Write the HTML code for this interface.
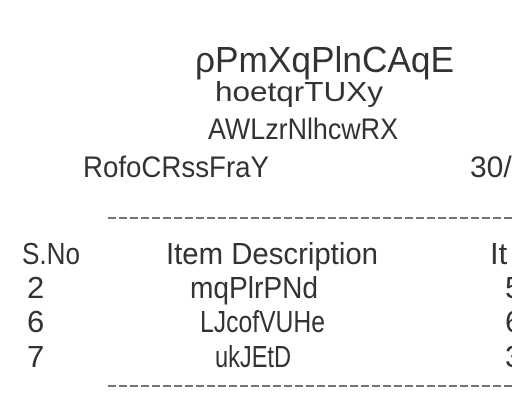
<!DOCTYPE html>
<html><head><meta charset="utf-8"><style>
html,body{margin:0;padding:0;background:#fff;}
svg{display:block}
text{font-family:"Liberation Sans",sans-serif;fill:#333;}
</style></head><body>
<svg width="512" height="400" viewBox="0 0 512 400" xmlns="http://www.w3.org/2000/svg">
<text x="195" y="72" font-size="36" textLength="259" lengthAdjust="spacingAndGlyphs">ρPmXqPlnCAqE</text>
<text x="215" y="101" font-size="28" textLength="168" lengthAdjust="spacingAndGlyphs">hoetqrTUXy</text>
<text x="208" y="139" font-size="30" textLength="190" lengthAdjust="spacingAndGlyphs">AWLzrNlhcwRX</text>
<text x="83" y="177" font-size="30" textLength="186" lengthAdjust="spacingAndGlyphs">RofoCRssFraY</text>
<text x="470" y="177" font-size="30">30/</text>
<line x1="108" y1="218" x2="512" y2="218" stroke="#222" stroke-width="1.3" stroke-dasharray="8 3"/>
<text x="22" y="264" font-size="31" textLength="58" lengthAdjust="spacingAndGlyphs">S.No</text>
<text x="166" y="264" font-size="31" textLength="212" lengthAdjust="spacingAndGlyphs">Item Description</text>
<text x="490" y="264" font-size="31">It</text>
<text x="27" y="298" font-size="31">2</text>
<text x="190" y="298" font-size="31" textLength="128" lengthAdjust="spacingAndGlyphs">mqPlrPNd</text>
<text x="505" y="298" font-size="31">5</text>
<text x="27" y="332" font-size="31">6</text>
<text x="200" y="332" font-size="31" textLength="125" lengthAdjust="spacingAndGlyphs">LJcofVUHe</text>
<text x="505" y="332" font-size="31">6</text>
<text x="27" y="367" font-size="31">7</text>
<text x="215" y="367" font-size="31" textLength="76" lengthAdjust="spacingAndGlyphs">ukJEtD</text>
<text x="505" y="367" font-size="31">3</text>
<line x1="108" y1="386" x2="512" y2="386" stroke="#222" stroke-width="1.3" stroke-dasharray="8 3"/>
</svg>
</body></html>
